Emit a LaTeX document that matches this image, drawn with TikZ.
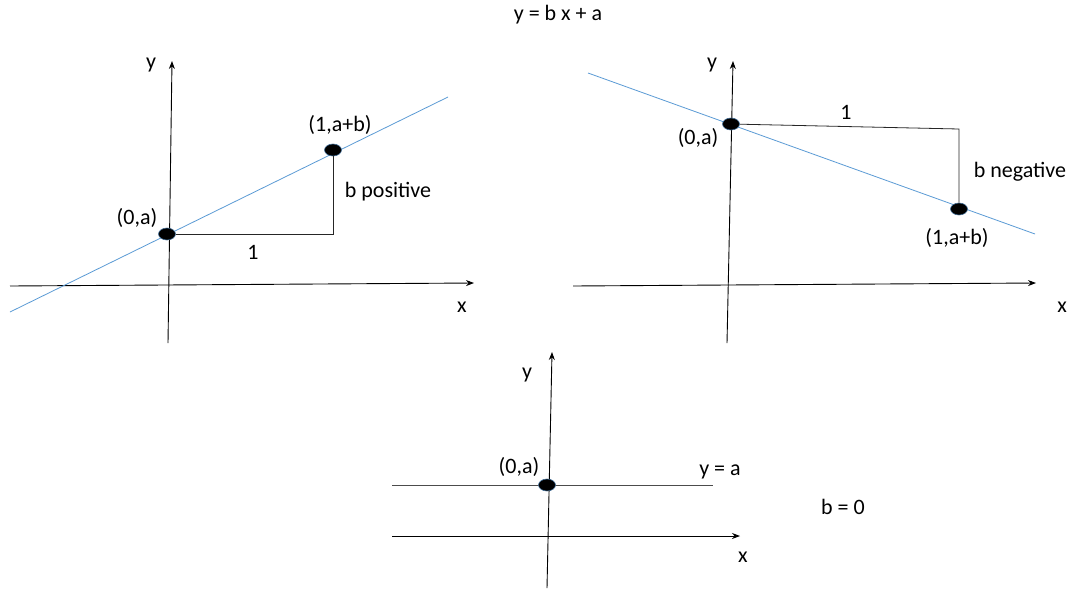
\documentclass[tikz,border=0pt]{standalone}
\usepackage{fontspec}
\setmainfont{Carlito}
\usetikzlibrary{arrows.meta,shapes.geometric}
\definecolor{lineblue}{RGB}{91,155,213}
\tikzset{
  axis/.style={draw=black, line width=0.9pt, -{Stealth[length=8pt,width=6pt]}},
  guide/.style={draw=black!85, line width=0.8pt},
  fitline/.style={draw=lineblue, line width=0.8pt},
  dot/.style={ellipse, fill=black, draw=lineblue!70!black, line width=0.6pt, minimum width=17pt, minimum height=12pt, inner sep=0pt},
  lbl/.style={font=\fontsize{22}{24}\selectfont, inner sep=0pt}
}
\begin{document}
\begin{tikzpicture}[x=1pt,y=-1pt]
\useasboundingbox[fill=white] (0,0) rectangle (1070,592);
\node[lbl] (title) at (558,15) {y = b x + a};
% Panel 1
\coordinate (p1xs) at (10,286); \coordinate (p1xe) at (474,283);
\coordinate (p1ys) at (168,343); \coordinate (p1ye) at (172,61);
\coordinate (p1ls) at (10,312); \coordinate (p1le) at (448,97);
\coordinate (p1c) at (333,234);
\draw[axis] (p1xs) -- (p1xe);
\draw[axis] (p1ys) -- (p1ye);
\draw[fitline] (p1ls) -- (p1le);
\node[dot] (p1a) at (167,234) {};
\node[dot] (p1b) at (333,150) {};
\draw[guide] (p1a) -- (p1c) -- (p1b);
\node[lbl] (p1al) at (137,218) {(0,a)};
\node[lbl] (p1bl) at (340,125) {(1,a+b)};
\node[lbl] (p1pos) at (388,192) {b positive};
\node[lbl] (p1one) at (253,252) {1};
\node[lbl] (p1y) at (151,65) {y};
\node[lbl] (p1x) at (462,307) {x};
% Panel 2
\coordinate (p2xs) at (573,286); \coordinate (p2xe) at (1036,283);
\coordinate (p2ys) at (727,343); \coordinate (p2ye) at (733,61);
\coordinate (p2ls) at (588,73); \coordinate (p2le) at (1035,234);
\coordinate (p2c) at (959,129);
\draw[axis] (p2xs) -- (p2xe);
\draw[axis] (p2ys) -- (p2ye);
\draw[fitline] (p2ls) -- (p2le);
\node[dot] (p2a) at (731,124) {};
\node[dot] (p2b) at (959,209) {};
\draw[guide] (p2a) -- (p2c) -- (p2b);
\node[lbl] (p2al) at (698,138) {(0,a)};
\node[lbl] (p2one) at (846,112) {1};
\node[lbl] (p2neg) at (1020,172) {b negative};
\node[lbl] (p2bl) at (957,238) {(1,a+b)};
\node[lbl] (p2y) at (712,65) {y};
\node[lbl] (p2x) at (1062,307) {x};
% Panel 3
\coordinate (p3xs) at (392,536); \coordinate (p3xe) at (740,536);
\coordinate (p3ys) at (547,588); \coordinate (p3ye) at (552,352);
\coordinate (p3ls) at (392,485); \coordinate (p3le) at (713,485);
\draw[axis] (p3xs) -- (p3xe);
\draw[axis] (p3ys) -- (p3ye);
\draw[guide, draw=black!70] (p3ls) -- (p3le);
\node[dot] (p3a) at (547,485) {};
\node[lbl] (p3al) at (519,467) {(0,a)};
\node[lbl] (p3eq) at (720,472) {y = a};
\node[lbl] (p3b0) at (843,507) {b = 0};
\node[lbl] (p3y) at (527,375) {y};
\node[lbl] (p3x) at (743,557) {x};
\end{tikzpicture}
\end{document}
